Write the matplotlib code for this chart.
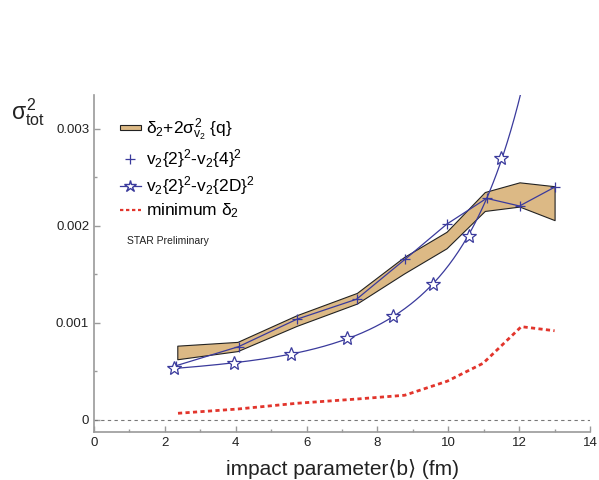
import numpy as np
import matplotlib
matplotlib.use("Agg")
import matplotlib.pyplot as plt
from matplotlib.patches import Rectangle
from matplotlib.lines import Line2D
from matplotlib.legend_handler import HandlerPatch

plt.rcParams['font.family'] = ['Liberation Sans', 'DejaVu Sans']
plt.rcParams['mathtext.fontset'] = 'custom'
plt.rcParams['mathtext.rm'] = 'Liberation Sans'
plt.rcParams['mathtext.it'] = 'Liberation Sans'
plt.rcParams['mathtext.sf'] = 'Liberation Sans'

# band: delta2 + 2 sigma^2 {q}
band_b = [2.35, 4.05, 5.72, 7.42, 8.75, 9.95, 11.03, 12.01, 13.0]
band_hi = [0.766, 0.805, 1.08, 1.31, 1.68, 1.94, 2.35, 2.45, 2.41]
band_lo = [0.626, 0.71, 0.97, 1.20, 1.51, 1.77, 2.155, 2.20, 2.06]

# v2{2}^2 - v2{4}^2
plus_b = [2.32, 4.08, 5.72, 7.41, 8.79, 9.96, 11.08, 12.01, 13.0]
plus_y = [0.56, 0.756, 1.038, 1.245, 1.66, 2.02, 2.285, 2.206, 2.40]

# v2{2}^2 - v2{2D}^2
star_b = [2.27, 3.94, 5.55, 7.14, 8.45, 9.57, 10.59, 11.5]
star_y = [0.533, 0.584, 0.68, 0.842, 1.072, 1.40, 1.90, 2.70]

# minimum delta2
min_b = [2.37, 4.06, 5.72, 7.42, 8.77, 9.97, 10.98, 12.06, 13.0]
min_y = [0.069, 0.113, 0.172, 0.216, 0.255, 0.40, 0.584, 0.962, 0.92]

scale = 1e-3
blue = '#3a3a9c'
tan = '#dcb985'
red = '#e2352c'
grey = '#9a9a9a'

fig = plt.figure(figsize=(5.99, 4.8), dpi=100)
ax = fig.add_axes([0.157, 0.1, 0.828, 0.702])

ax.axhline(0, color='#777777', lw=0.8, dashes=(3, 3))

ax.fill_between(band_b, np.array(band_lo) * scale, np.array(band_hi) * scale,
                facecolor=tan, edgecolor='#222222', lw=0.8, zorder=2)

ax.plot(plus_b, np.array(plus_y) * scale, color=blue, lw=0.9, zorder=3)
ax.plot(plus_b, np.array(plus_y) * scale, ls='none', marker='+', ms=7,
        mew=0.9, color=blue, zorder=4)

# smooth fit through the star points (log-polynomial)
coef = np.polyfit(star_b, np.log(star_y), 3)
bb = np.linspace(star_b[0], 12.3, 300)
ax.plot(bb, np.exp(np.polyval(coef, bb)) * scale, color=blue, lw=0.9, zorder=3)
ax.plot(star_b, np.array(star_y) * scale, ls='none', marker='*', ms=10,
        mfc='white', mec=blue, mew=0.9, zorder=4)

ax.plot(min_b, np.array(min_y) * scale, color=red, lw=2, dashes=(1.5, 1.2), zorder=3)

ax.set_xlim(0, 14)
ax.set_ylim(-0.000124, 0.00335)
ax.set_xticks(range(0, 15, 2))
ax.set_xticks(range(1, 14, 2), minor=True)
ax.set_yticks([0, 0.001, 0.002, 0.003])
ax.set_yticklabels(['0', '0.001', '0.002', '0.003'])
ax.set_yticks([0.0005, 0.0015, 0.0025], minor=True)
ax.tick_params(which='both', direction='in', color=grey, labelsize=9.5,
               labelcolor='#222222')
ax.tick_params(which='major', length=4, width=1)
ax.tick_params(which='minor', length=2.5, width=1)
for s in ['top', 'right']:
    ax.spines[s].set_visible(False)
for s in ['left', 'bottom']:
    ax.spines[s].set_color(grey)
    ax.spines[s].set_linewidth(1.2)

ax.set_xlabel('impact parameter\u27e8b\u27e9 (fm)', fontsize=15, color='#222222',
              labelpad=7)
fig.text(0.018, 0.752, r'$\sigma^2_{\mathrm{tot}}$', fontsize=16.5, color='#222222')


def thin_rect(legend, orig_handle, xdescent, ydescent, width, height, fontsize):
    return Rectangle((-xdescent, -ydescent + height * 0.3), width, height * 0.4)


handles = [
    Rectangle((0, 0), 1, 1, facecolor=tan, edgecolor='#222222', lw=0.8),
    Line2D([], [], ls='none', marker='+', ms=7, mew=0.9, color=blue),
    Line2D([], [], color=blue, lw=0.9, marker='*', ms=9, mfc='white', mec=blue),
    Line2D([], [], color=red, lw=1.6, dashes=(1.5, 1.2)),
]
labels = [
    r'$\delta_2$+2$\sigma^2_{v_2}$ {q}',
    r'v$_2${2}$^2$-v$_2${4}$^2$',
    r'v$_2${2}$^2$-v$_2${2D}$^2$',
    r'minimum $\delta_2$',
]
fig.legend(handles, labels, loc='upper left',
           bbox_to_anchor=(111 / 599, 1 - 108 / 480), frameon=False,
           fontsize=12.5, handlelength=1.2, handletextpad=0.3, labelspacing=0.25,
           borderpad=0, handler_map={Rectangle: HandlerPatch(patch_func=thin_rect)})

fig.text(127 / 599, 1 - 241 / 480, 'STAR Preliminary', fontsize=7.5, va='center',
         color='#222222')

fig.savefig('out.png', dpi=100)
